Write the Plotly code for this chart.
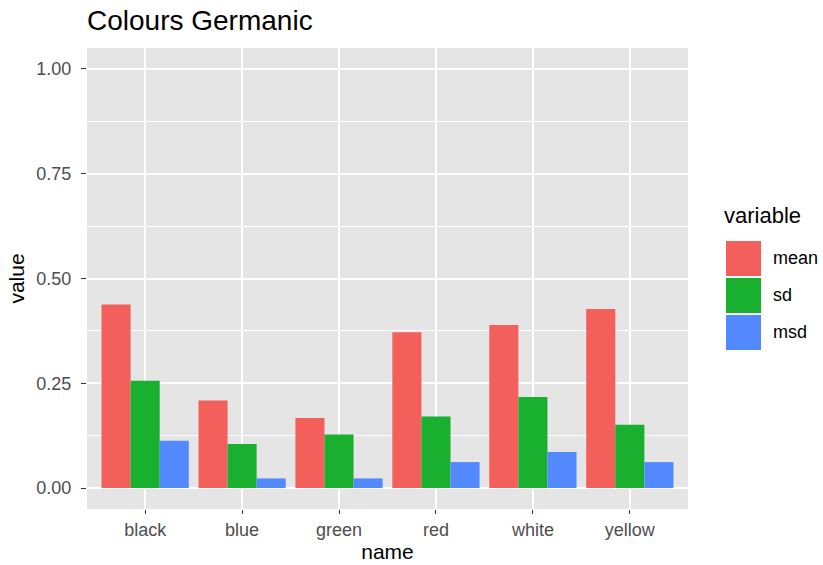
import plotly.graph_objects as go

names = ["black", "blue", "green", "red", "white", "yellow"]
variables = ["mean", "sd", "msd"]
mean_vals = [0.438, 0.209, 0.167, 0.372, 0.389, 0.427]
sd_vals = [0.256, 0.105, 0.128, 0.171, 0.217, 0.151]
msd_vals = [0.113, 0.023, 0.023, 0.062, 0.086, 0.062]
y_ticks = [0.0, 0.25, 0.5, 0.75, 1.0]
y_tick_labels = ["0.00", "0.25", "0.50", "0.75", "1.00"]

COLOURS = ["#F35F5B", "#18B02E", "#5289FF"]
FONT = "Liberation Sans, Arial, Helvetica, sans-serif"

W, H = 823, 565
L, R, T, B = 87, 688, 48, 509


def px_x(px):
    return (px - L) / (R - L)


def px_y(py):
    return (B - py) / (B - T)


fig = go.Figure()
for var, vals, col in zip(variables, [mean_vals, sd_vals, msd_vals], COLOURS):
    fig.add_trace(go.Bar(name=var, x=names, y=vals, marker_color=col,
                         marker_line_width=0, showlegend=False))

fig.update_layout(
    width=W, height=H,
    margin=dict(l=L, r=W - R, t=T, b=H - B),
    paper_bgcolor="white",
    plot_bgcolor="#E5E5E5",
    barmode="group", bargap=0.1, bargroupgap=0,
    font=dict(family=FONT, color="#4D4D4D"),
    title=dict(text="Colours Germanic", x=L / W,
               xanchor="left", y=1 - 20 / H, yanchor="middle",
               font=dict(size=28, color="black")),
    xaxis=dict(type="category", range=[-0.6, 5.6], showgrid=True,
               gridcolor="white", gridwidth=1.6, zeroline=False,
               automargin=False,
               ticks="outside", ticklen=4, tickcolor="#333333",
               ticklabelstandoff=0,
               tickfont=dict(size=18, color="#4D4D4D"),
               title=dict(text="name", font=dict(size=21, color="black"),
                          standoff=2)),
    yaxis=dict(range=[-0.05, 1.05], tickvals=y_ticks, ticktext=y_tick_labels,
               showgrid=True, gridcolor="white", gridwidth=1.6, zeroline=False,
               automargin=False,
               ticks="outside", ticklen=5, tickcolor="#333333",
               ticklabelstandoff=6,
               tickfont=dict(size=18, color="#4D4D4D"),
               minor=dict(tickvals=[0.125, 0.375, 0.625, 0.875],
                          showgrid=True, gridcolor="white", gridwidth=0.8),
               title=dict(text="value", font=dict(size=21, color="black"),
                          standoff=6)),
)

# legend drawn by hand to get ggplot-sized keys
fig.add_annotation(text="variable", xref="paper", yref="paper",
                   x=px_x(722), y=px_y(216), xanchor="left", yanchor="middle",
                   showarrow=False, font=dict(size=22, color="black"))
for i, (var, col) in enumerate(zip(variables, COLOURS)):
    top = 241 + i * 37
    fig.add_shape(type="rect", xref="paper", yref="paper",
                  x0=px_x(726), x1=px_x(761), y0=px_y(top), y1=px_y(top + 35),
                  fillcolor=col, line=dict(width=0))
    fig.add_annotation(text=var, xref="paper", yref="paper",
                       x=px_x(771), y=px_y(top + 17), xanchor="left",
                       yanchor="middle", showarrow=False,
                       font=dict(size=18, color="black"))

fig.write_html("out.html", config={"displayModeBar": False},
               post_script="document.body.style.margin='0';")
